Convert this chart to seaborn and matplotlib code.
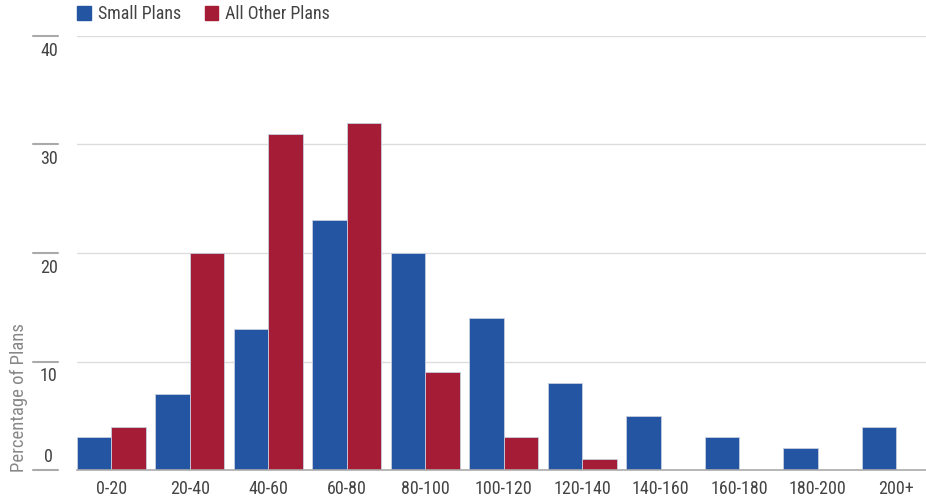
import matplotlib.pyplot as plt
import matplotlib.transforms as mtransforms
import pandas as pd
import seaborn as sns

categories = ["0-20", "20-40", "40-60", "60-80", "80-100", "100-120",
              "120-140", "140-160", "160-180", "180-200", "200+"]
small_plans = [3, 7, 13, 23, 20, 14, 8, 5, 3, 2, 4]
other_plans = [4, 20, 31, 32, 9, 3, 1, 0, 0, 0, 0]
series_names = ["Small Plans", "All Other Plans"]
y_ticks = [0, 10, 20, 30, 40]

df = pd.DataFrame({
    "bucket": categories * 2,
    "value": small_plans + other_plans,
    "series": [series_names[0]] * len(categories) + [series_names[1]] * len(categories),
})

sns.set_theme(style="white")
plt.rcParams["font.family"] = ["Roboto Condensed", "Liberation Sans Narrow", "DejaVu Sans"]
plt.rcParams["font.stretch"] = "condensed"

text_color = "#444444"
colors = ["#2355A3", "#A51C37"]
fig = plt.figure(figsize=(9.26, 4.97), dpi=100)
ax = fig.add_axes([0.083, 0.0543, 0.917, 0.8733])

sns.barplot(data=df, x="bucket", y="value", hue="series",
            palette=colors, saturation=1, width=0.88, gap=0,
            edgecolor="#c8cfe0", linewidth=0.6, ax=ax, legend=False)

ax.set_ylim(0, 40)
ax.set_xlim(-0.44, 10.38)
ax.set_yticks(y_ticks)
ax.set_yticklabels([])
ax.tick_params(axis="y", length=0)
ax.tick_params(axis="x", length=0, pad=7, labelsize=13, labelcolor=text_color)
for t in y_ticks[1:]:
    ax.axhline(t, color="#dddddd", linewidth=1, zorder=0)
for side in ["top", "right", "left"]:
    ax.spines[side].set_visible(False)
ax.spines["bottom"].set_color("#aaaaaa")
ax.spines["bottom"].set_linewidth(1.2)

# tick marks drawn to the left with labels next to them
trans = mtransforms.blended_transform_factory(ax.transAxes, ax.transData)
for t in y_ticks:
    ax.plot([-0.052, -0.022], [t, t], color="#aaaaaa", linewidth=1.5,
            transform=trans, clip_on=False)
    if t == 0:
        ax.text(-0.033, t + 0.4, str(t), transform=trans, ha="center", va="bottom",
                fontsize=13, color=text_color)
    else:
        ax.text(-0.033, t - 0.55, str(t), transform=trans, ha="center", va="top",
                fontsize=13, color=text_color)

ax.set_xlabel("")
ax.set_ylabel("")
fig.text(0.02, 0.05, "Percentage of Plans", rotation=90, ha="center",
         va="bottom", fontsize=13.5, color="#888888")

# legend
handles = [plt.Rectangle((0, 0), 1, 1, color=c) for c in colors]
fig.legend(handles, series_names, loc="upper left", bbox_to_anchor=(0.066, 1.022),
           ncol=2, frameon=False, fontsize=13, handlelength=0.75, handleheight=0.75,
           handletextpad=0.4, columnspacing=1.3, labelcolor=text_color)

fig.savefig("out.png", dpi=100)
